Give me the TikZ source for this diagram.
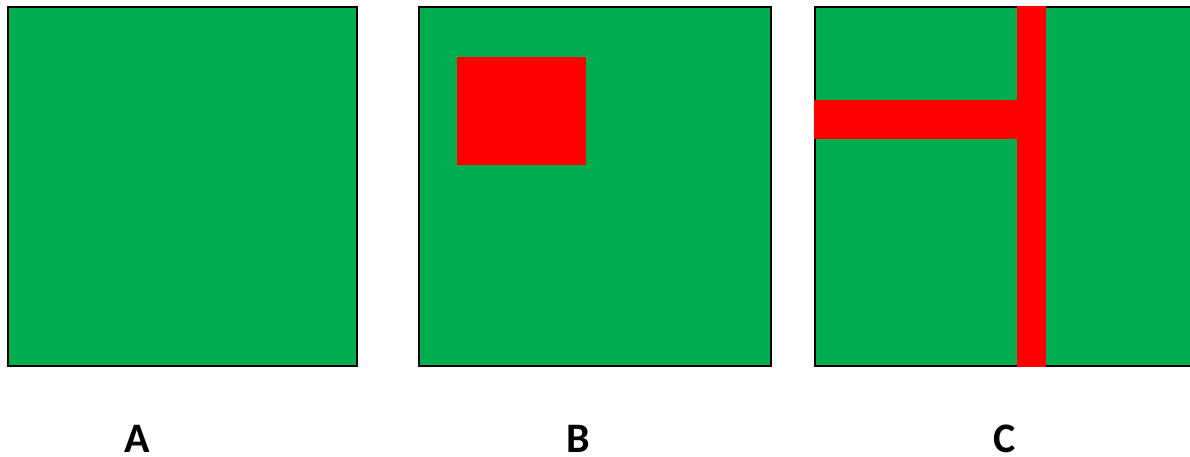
\documentclass[tikz,border=0pt]{standalone}
\usepackage{fontspec}
\setmainfont{Carlito}
\usetikzlibrary{positioning}
\definecolor{panelgreen}{HTML}{00AE4F}
\definecolor{blockred}{HTML}{FF0000}

\begin{document}
\begin{tikzpicture}[
    x=1pt, y=-1pt,
    panel/.style={draw=black, line width=1.6pt, fill=panelgreen},
    block/.style={fill=blockred},
    tag/.style={font=\bfseries\fontsize{42}{42}\selectfont, anchor=base, inner sep=0pt}
]
    \useasboundingbox (0,0) rectangle (1190,457);
    \clip (0,0) rectangle (1190,457);
    % panel A: all green
    \path[panel] (8,7) rectangle (357,366);
    % panel B: one red square
    \path[panel] (419,7) rectangle (771,366);
    \path[block] (457,57) rectangle (586,165);
    % panel C: red T, cut off at the right
    \path[panel] (815,7) rectangle (1200,366);
    \path[block] (1017,6) rectangle (1046,367);
    \path[block] (814,100) rectangle (1017,139);
    \node[tag] (labelA) at (137,452) {A};
    \node[tag] (labelB) at (578,452) {B};
    \node[tag] (labelC) at (1005,452) {C};
\end{tikzpicture}
\end{document}
